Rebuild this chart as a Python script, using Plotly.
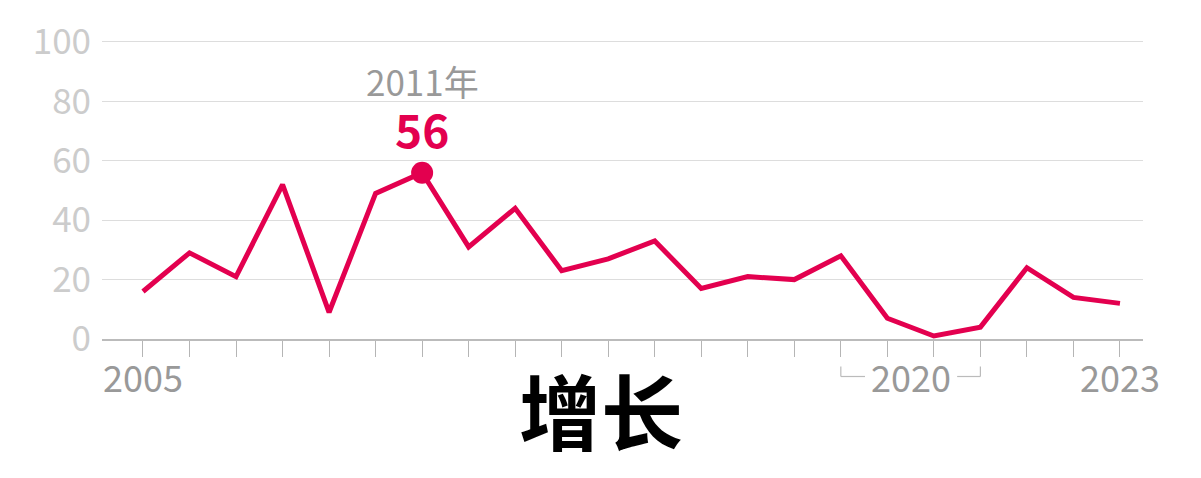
import plotly.graph_objects as go

# Data
periods = ["2005", "2006", "2007", "2008", "2009", "2010", "2011", "2012", "2013", "2014",
           "2015", "2016", "2017", "2018", "2019", "2020", "2020", "2020", "2020",
           "2021", "2022", "2023"]
values = [16, 29, 21, 52, 9, 49, 56, 31, 44, 23, 27, 33, 17, 21, 20, 28, 7, 1, 4, 24, 14, 12]
y_ticks = [0, 20, 40, 60, 80, 100]
x_label_years = ["2005", "2020", "2023"]
title_text = "增长"
highlight_period = "2011"

FONT = "Noto Sans CJK SC"
RED = "#e3004f"
idx = list(range(len(values)))

# page body has an 8px margin; size the figure so the plot lands where the reference has it
W, H = 1193, 470
L, R, T, B = 94, 58, 31, 139
plot_w = W - L - R
plot_h = H - T - B

fig = go.Figure()
fig.add_trace(go.Scatter(x=idx, y=values, mode="lines",
                         line=dict(color=RED, width=5), hoverinfo="skip", cliponaxis=False))

h = periods.index(highlight_period)
fig.add_trace(go.Scatter(x=[h], y=[values[h]], mode="markers",
                         marker=dict(color=RED, size=22), hoverinfo="skip", cliponaxis=False))

annotations = []
annotations.append(dict(x=h, y=values[h], xref="x", yref="y", text=f"{highlight_period}年",
                        showarrow=False, yanchor="middle", yshift=92,
                        font=dict(family=FONT, size=35, color="#999999")))
annotations.append(dict(x=h, y=values[h], xref="x", yref="y", text=f"<b>{values[h]}</b>",
                        showarrow=False, yanchor="middle", yshift=45,
                        font=dict(family=FONT, size=46, color=RED)))

shapes = []
for yr in x_label_years:
    pos = [i for i, p in enumerate(periods) if p == yr]
    cx = (pos[0] + pos[-1]) / 2
    annotations.append(dict(x=cx, y=0, xref="x", yref="paper", text=yr, showarrow=False,
                            yanchor="middle", yshift=-37,
                            font=dict(family=FONT, size=36, color="#999999")))
    if len(pos) > 1:
        a, b = pos[0], pos[-1]
        yt, yb = -27.5 / plot_h, -37.5 / plot_h
        gray = "#bbbbbb"
        shapes += [
            dict(type="line", xref="x", yref="paper", x0=a, x1=a, y0=yt, y1=yb, line=dict(color=gray, width=1.2)),
            dict(type="line", xref="x", yref="paper", x0=a, x1=a + 0.52, y0=yb, y1=yb, line=dict(color=gray, width=1.2)),
            dict(type="line", xref="x", yref="paper", x0=b, x1=b, y0=yt, y1=yb, line=dict(color=gray, width=1.2)),
            dict(type="line", xref="x", yref="paper", x0=b - 0.5, x1=b, y0=yb, y1=yb, line=dict(color=gray, width=1.2)),
        ]

# title (centre at page x≈601, y≈408)
annotations.append(dict(x=(601 - 8 - L) / plot_w, y=-(408 - 8 - (T + plot_h)) / plot_h,
                        xref="paper", yref="paper", text=f"<b>{title_text}</b>",
                        showarrow=False, xanchor="center", yanchor="middle",
                        font=dict(family=FONT, size=82, color="#000000", weight=900)))

fig.update_layout(
    width=W, height=H,
    margin=dict(l=L, r=R, t=T, b=B),
    paper_bgcolor="white", plot_bgcolor="white",
    showlegend=False,
    xaxis=dict(range=[-0.881, 21.495], tickvals=idx, showticklabels=False, automargin=False,
               ticks="outside", ticklen=16, tickcolor="#b5b5b5", tickwidth=1.2,
               showgrid=False, zeroline=False, showline=True, linecolor="#bbbbbb", linewidth=1.5,
               fixedrange=True),
    yaxis=dict(range=[0, 101], tickvals=y_ticks, showgrid=True, gridcolor="#dddddd", gridwidth=1,
               zeroline=False, ticks="", ticklabelstandoff=10, automargin=False,
               tickfont=dict(family=FONT, size=35, color="#cccccc"), fixedrange=True),
    annotations=annotations,
    shapes=shapes,
)

fig.write_html("out.html")
